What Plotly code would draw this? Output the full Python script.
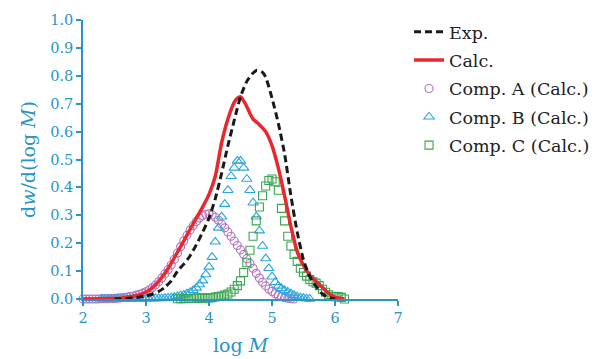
import plotly.graph_objects as go

# ---------------- data ----------------
exp_x = [2.5, 2.6, 2.7, 2.8, 2.9, 3.0, 3.1, 3.2, 3.3, 3.4, 3.5, 3.6, 3.7, 3.8, 3.9, 4.0,
         4.1, 4.2, 4.3, 4.4, 4.5, 4.6, 4.7, 4.76, 4.85, 4.9, 5.0, 5.1, 5.2, 5.3, 5.4,
         5.5, 5.6, 5.7, 5.8, 5.9, 6.0]
exp_y = [0.0, 0.001, 0.002, 0.004, 0.007, 0.011, 0.017, 0.027, 0.042, 0.065, 0.10, 0.125,
         0.155, 0.195, 0.24, 0.29, 0.36, 0.45, 0.55, 0.64, 0.725, 0.78, 0.81, 0.82, 0.812,
         0.795, 0.72, 0.63, 0.52, 0.37, 0.24, 0.14, 0.08, 0.045, 0.018, 0.006, 0.0]

calc_x = [2.0, 2.5, 2.6, 2.7, 2.8, 2.9, 3.0, 3.1, 3.2, 3.3, 3.4, 3.5, 3.6, 3.7, 3.8, 3.9,
          4.0, 4.1, 4.2, 4.3, 4.4, 4.45, 4.5, 4.55, 4.6, 4.65, 4.7, 4.75, 4.8, 4.9, 5.0,
          5.1, 5.2, 5.3, 5.4, 5.5, 5.6, 5.7, 5.8, 5.9, 6.0, 6.1, 6.15]
calc_y = [0.0, 0.002, 0.003, 0.006, 0.010, 0.016, 0.025, 0.040, 0.063, 0.092, 0.128,
          0.168, 0.208, 0.250, 0.290, 0.330, 0.375, 0.44, 0.56, 0.645, 0.705, 0.72, 0.725,
          0.71, 0.69, 0.665, 0.645, 0.635, 0.625, 0.60, 0.55, 0.47, 0.37, 0.26, 0.17, 0.12,
          0.085, 0.063, 0.042, 0.02, 0.006, 0.002, 0.0]

compA_x = [2.00, 2.05, 2.10, 2.15, 2.20, 2.25, 2.30, 2.35, 2.40, 2.45, 2.50, 2.55, 2.60,
           2.65, 2.70, 2.75, 2.80, 2.85, 2.90, 2.95, 3.00, 3.05, 3.10, 3.15, 3.20, 3.25,
           3.30, 3.35, 3.40, 3.45, 3.50, 3.55, 3.60, 3.65, 3.70, 3.75, 3.80, 3.85, 3.90,
           3.95, 4.00, 4.05, 4.10, 4.15, 4.20, 4.25, 4.30, 4.35, 4.40, 4.45, 4.50, 4.55,
           4.60, 4.65, 4.70, 4.75, 4.80, 4.85, 4.90, 4.95, 5.00, 5.05, 5.10, 5.15, 5.20,
           5.25, 5.30, 5.35]
compA_y = [0.000, 0.000, 0.000, 0.000, 0.000, 0.000, 0.001, 0.001, 0.001, 0.002, 0.002,
           0.003, 0.004, 0.005, 0.007, 0.009, 0.011, 0.014, 0.017, 0.021, 0.026, 0.032,
           0.040, 0.050, 0.062, 0.075, 0.090, 0.105, 0.122, 0.142, 0.165, 0.187, 0.208,
           0.228, 0.247, 0.263, 0.278, 0.290, 0.299, 0.304, 0.305, 0.301, 0.293, 0.282,
           0.268, 0.255, 0.240, 0.225, 0.208, 0.192, 0.176, 0.160, 0.144, 0.127, 0.110,
           0.092, 0.075, 0.060, 0.047, 0.036, 0.027, 0.019, 0.013, 0.008, 0.005, 0.003,
           0.001, 0.000]

compB_x = [2.30, 2.35, 2.40, 2.45, 2.50, 2.55, 2.60, 2.65, 2.70, 2.75, 2.80, 2.85, 2.90,
           2.95, 3.00, 3.05, 3.10, 3.15, 3.20, 3.25, 3.30, 3.35, 3.40, 3.45, 3.50, 3.55,
           3.60, 3.65, 3.70, 3.75, 3.80, 3.85, 3.90, 3.95, 4.00, 4.05, 4.10, 4.15, 4.20,
           4.25, 4.30, 4.35, 4.40, 4.45, 4.50, 4.55, 4.60, 4.65, 4.70, 4.75, 4.80, 4.85,
           4.90, 4.95, 5.00, 5.05, 5.10, 5.15, 5.20, 5.25, 5.30, 5.35, 5.40, 5.45, 5.50,
           5.55, 5.60]
compB_y = [0.000, 0.000, 0.000, 0.000, 0.000, 0.000, 0.000, 0.000, 0.000, 0.000, 0.000,
           0.001, 0.001, 0.001, 0.001, 0.001, 0.001, 0.002, 0.002, 0.002, 0.003, 0.004,
           0.005, 0.007, 0.009, 0.012, 0.015, 0.019, 0.024, 0.031, 0.040, 0.052, 0.066,
           0.088, 0.115, 0.150, 0.205, 0.255, 0.295, 0.340, 0.390, 0.440, 0.470, 0.495,
           0.495, 0.470, 0.430, 0.390, 0.345, 0.295, 0.245, 0.190, 0.145, 0.110, 0.080,
           0.060, 0.047, 0.038, 0.031, 0.025, 0.019, 0.013, 0.008, 0.005, 0.003, 0.001,
           0.000]

compC_x = [3.50, 3.55, 3.60, 3.65, 3.70, 3.75, 3.80, 3.85, 3.90, 3.95, 4.00, 4.05, 4.10,
           4.15, 4.20, 4.25, 4.30, 4.35, 4.40, 4.45, 4.50, 4.55, 4.60, 4.65, 4.70, 4.75,
           4.80, 4.85, 4.90, 4.95, 5.00, 5.05, 5.10, 5.15, 5.20, 5.25, 5.30, 5.35, 5.40,
           5.45, 5.50, 5.55, 5.60, 5.65, 5.70, 5.75, 5.80, 5.85, 5.90, 5.95, 6.00, 6.05,
           6.10, 6.15]
compC_y = [0.001, 0.001, 0.001, 0.002, 0.002, 0.002, 0.003, 0.003, 0.003, 0.004, 0.004,
           0.005, 0.007, 0.009, 0.011, 0.014, 0.018, 0.025, 0.035, 0.048, 0.065, 0.095,
           0.130, 0.175, 0.225, 0.280, 0.330, 0.370, 0.405, 0.425, 0.430, 0.420, 0.390,
           0.325, 0.280, 0.225, 0.190, 0.160, 0.135, 0.110, 0.095, 0.082, 0.070, 0.062,
           0.057, 0.048, 0.035, 0.024, 0.015, 0.010, 0.008, 0.009, 0.006, 0.000]

x_ticks = [2, 3, 4, 5, 6, 7]
y_ticks = [0.0, 0.1, 0.2, 0.3, 0.4, 0.5, 0.6, 0.7, 0.8, 0.9, 1.0]

# ---------------- styling ----------------
AXIS_COLOR = "#2a94c6"
RED = "#e8282e"
PURPLE = "#b370bd"
BLUE = "#2aa6e0"
GREEN = "#3aa64f"

fig = go.Figure()

fig.add_trace(go.Scatter(x=compA_x, y=compA_y, mode="markers", name="Comp. A (Calc.)",
                         marker=dict(symbol="circle-open", size=8, color=PURPLE,
                                     line=dict(width=1.1, color=PURPLE)),
                         cliponaxis=False, legendrank=3, legendgroup="a"))
fig.add_trace(go.Scatter(x=compB_x, y=compB_y, mode="markers", name="Comp. B (Calc.)",
                         marker=dict(symbol="triangle-up-open", size=9, color=BLUE,
                                     line=dict(width=1.1, color=BLUE)),
                         cliponaxis=False, legendrank=4, legendgroup="b"))
fig.add_trace(go.Scatter(x=compC_x, y=compC_y, mode="markers", name="Comp. C (Calc.)",
                         marker=dict(symbol="square-open", size=8, color=GREEN,
                                     line=dict(width=1.1, color=GREEN)),
                         cliponaxis=False, legendrank=5, legendgroup="c"))
fig.add_trace(go.Scatter(x=calc_x, y=calc_y, mode="lines", name="Calc.",
                         line=dict(color=RED, width=3.5, shape="spline", smoothing=0.6),
                         cliponaxis=False, legendrank=2, legendgroup="calc"))
fig.add_trace(go.Scatter(x=exp_x, y=exp_y, mode="lines", name="Exp.",
                         line=dict(color="#1a1a1a", width=3, dash="7px,4px",
                                   shape="spline", smoothing=0.6),
                         cliponaxis=False, legendrank=1, legendgroup="exp"))

fig.update_layout(
    width=606, height=359,
    margin=dict(l=83, r=208, t=20, b=60, autoexpand=False),
    paper_bgcolor="white", plot_bgcolor="white",
    showlegend=True,
    legend=dict(x=1.035, y=1.022, xanchor="left", yanchor="top",
                font=dict(family="DejaVu Serif", size=17.5, color="#222222"),
                tracegroupgap=2.6, bgcolor="rgba(0,0,0,0)", itemwidth=30),
    font=dict(family="DejaVu Serif", color=AXIS_COLOR),
)

fig.update_xaxes(range=[2, 7], tickvals=x_ticks, ticktext=[str(v) for v in x_ticks],
                 showgrid=False, zeroline=False, showline=True, linecolor=AXIS_COLOR,
                 linewidth=1.5, ticks="outside", ticklen=5, tickwidth=1.5,
                 tickcolor=AXIS_COLOR, automargin=False,
                 tickfont=dict(family="DejaVu Serif", size=14.5, color=AXIS_COLOR),
                 title=dict(text="log <i>M</i>", standoff=14,
                            font=dict(family="DejaVu Serif", size=19, color=AXIS_COLOR)))
fig.update_yaxes(range=[0, 1.0], tickvals=y_ticks, ticktext=[f"{v:.1f}" for v in y_ticks],
                 showgrid=False, zeroline=False, showline=True, linecolor=AXIS_COLOR,
                 linewidth=1.5, ticks="outside", ticklen=5, tickwidth=1.5,
                 tickcolor=AXIS_COLOR, automargin=False,
                 tickfont=dict(family="DejaVu Serif", size=14.5, color=AXIS_COLOR),
                 title=dict(text="d<i>w</i>/d(log <i>M</i>)", standoff=10,
                            font=dict(family="DejaVu Serif", size=19, color=AXIS_COLOR)))

fig.write_html("out.html")
